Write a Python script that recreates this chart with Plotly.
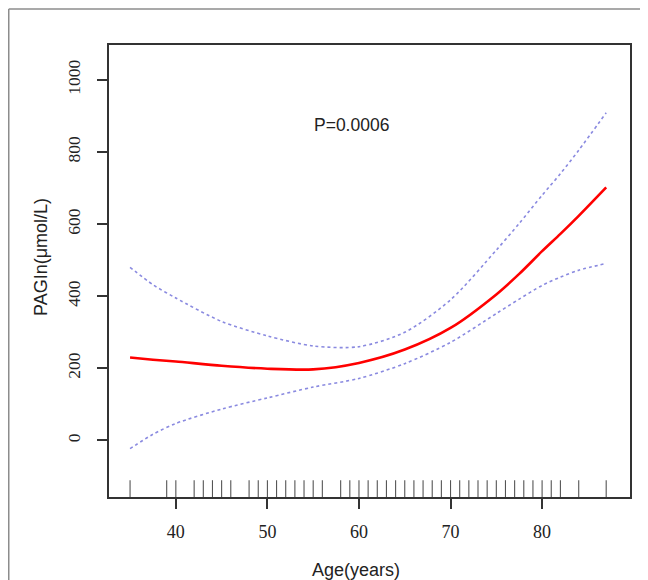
import plotly.graph_objects as go

# Data
ages_fit = [35, 37.5, 40, 45, 50, 55, 60, 65, 70, 75, 77.5, 80, 82, 84, 87]
pagin_fit = [230, 224, 219, 207, 199, 197, 215, 252, 312, 405, 462, 525, 573, 623, 702]
pagin_upper = [480, 432, 395, 330, 290, 262, 260, 300, 390, 528, 602, 680, 740, 805, 909]
pagin_lower = [-23, 17, 47, 87, 118, 148, 172, 213, 272, 352, 392, 430, 453, 472, 491]

rug_ages = [35, 39, 40, 42, 43, 44, 45, 46, 48, 49, 50, 51, 52, 53, 54, 55, 56,
            58, 59, 60, 61, 62, 63, 64, 65, 66, 67, 68, 69, 70, 71, 72, 73, 74,
            75, 76, 77, 78, 79, 80, 81, 82, 84, 87]

x_ticks = [40, 50, 60, 70, 80]
y_ticks = [0, 200, 400, 600, 800, 1000]

x_range = [32.7, 89.6]
y_range = [-157, 1097]

# the page body adds an 8 px offset, so layout pixels are reference pixels - 8
W, H = 648, 580
L, R, T, B = 101, 26, 37, 91
plot_w = W - L - R
plot_h = H - T - B
rug_px = 14
rug_y = y_range[0] + (rug_px / 2) * (y_range[1] - y_range[0]) / plot_h


def px_x(px):
    return (px - L) / plot_w


def px_y(py):
    return (plot_h + T - py) / plot_h


fig = go.Figure()

ci_line = dict(color="#8a8ae0", width=1.6, dash="dot", shape="spline", smoothing=0.8)
fig.add_trace(go.Scatter(x=ages_fit, y=pagin_upper, mode="lines", line=ci_line,
                         hoverinfo="skip", showlegend=False))
fig.add_trace(go.Scatter(x=ages_fit, y=pagin_lower, mode="lines", line=ci_line,
                         hoverinfo="skip", showlegend=False))
fig.add_trace(go.Scatter(
    x=ages_fit, y=pagin_fit, mode="lines",
    line=dict(color="#ff0000", width=2.6, shape="spline", smoothing=0.8),
    showlegend=False))
fig.add_trace(go.Scatter(
    x=rug_ages, y=[rug_y] * len(rug_ages), mode="markers",
    marker=dict(symbol="line-ns", size=rug_px, line=dict(color="#555555", width=1.1)),
    hoverinfo="skip", showlegend=False))

sans = "Liberation Sans, Arial, sans-serif"
serif = "Liberation Serif, Times New Roman, DejaVu Serif, serif"

fig.add_annotation(x=59.2, y=875, xref="x", yref="y", text="P=0.0006",
                   showarrow=False, font=dict(family=sans, size=17.5, color="#222"))

fig.add_annotation(x=px_x(348), y=px_y(562), xref="paper", yref="paper",
                   text="Age(years)", showarrow=False,
                   xanchor="center", yanchor="middle",
                   font=dict(family=sans, size=18, color="#222"))
fig.add_annotation(x=px_x(33), y=px_y(249), xref="paper", yref="paper",
                   text="PAGIn(μmol/L)", showarrow=False, textangle=-90,
                   xanchor="center", yanchor="middle",
                   font=dict(family=sans, size=18, color="#222"))

# outer frame (top and left edges)
fig.add_shape(type="line", xref="paper", yref="paper",
              x0=px_x(0.75), x1=px_x(W), y0=px_y(1), y1=px_y(1),
              line=dict(color="#8c8c8c", width=1.5))
fig.add_shape(type="line", xref="paper", yref="paper",
              x0=px_x(0.75), x1=px_x(0.75), y0=px_y(1), y1=px_y(H),
              line=dict(color="#8c8c8c", width=1.5))

axis_common = dict(showgrid=False, zeroline=False, showline=True, linecolor="#333",
                   linewidth=1.5, mirror=True, ticks="outside", ticklen=10,
                   tickwidth=1.5, tickcolor="#333")

fig.update_xaxes(range=x_range, tickvals=x_ticks, ticklabelstandoff=8,
                 tickfont=dict(family=serif, size=18, color="#222"),
                 **axis_common)
fig.update_yaxes(range=y_range, tickvals=y_ticks, tickangle=-90, ticklabelstandoff=10,
                 tickfont=dict(family=serif, size=17.5, color="#222"),
                 **axis_common)

fig.update_layout(width=W, height=H, margin=dict(l=L, r=R, t=T, b=B),
                  plot_bgcolor="white", paper_bgcolor="white")

fig.write_html("out.html")
